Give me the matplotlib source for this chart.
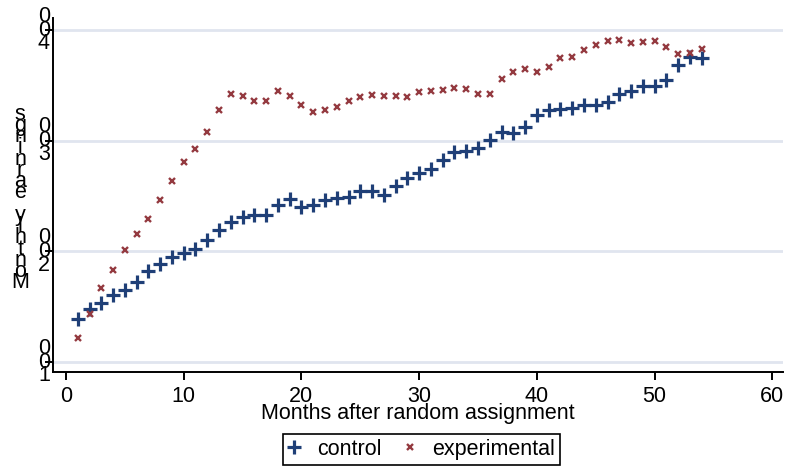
import matplotlib
matplotlib.use("Agg")
import matplotlib.pyplot as plt

plt.rcParams['font.family'] = ['Liberation Sans', 'DejaVu Sans']

months = list(range(1, 55))
control = [138.6, 148.2, 153.7, 160.6, 165.4, 172.7, 182.6, 188.7, 194.7, 198.3,
           202.5, 210.7, 219.7, 226.7, 231.5, 233.3, 232.7, 241.7, 247.8, 240.0,
           242.0, 246.9, 248.7, 249.6, 254.5, 254.8, 251.4, 259.0, 266.5, 271.3,
           274.4, 282.5, 289.7, 291.2, 293.9, 300.9, 307.5, 306.9, 312.9, 323.2,
           327.8, 328.7, 329.2, 332.6, 332.8, 335.0, 342.2, 345.2, 349.1, 349.1,
           354.6, 368.5, 375.7, 374.8]
experimental = [121.4, 143.2, 166.7, 183.3, 201.1, 215.6, 229.4, 246.6, 263.8, 280.7,
                293.0, 307.5, 328.0, 342.2, 340.1, 335.9, 336.2, 345.2, 340.7, 332.0,
                326.2, 328.0, 331.0, 335.6, 339.2, 341.0, 340.1, 340.1, 339.5, 343.7,
                344.9, 345.8, 347.6, 346.7, 342.5, 342.5, 355.7, 361.8, 365.2, 361.8,
                366.4, 374.5, 376.0, 382.4, 386.3, 390.5, 391.4, 388.7, 389.0, 390.5,
                384.8, 378.4, 379.3, 382.9]
xticks = [0, 10, 20, 30, 40, 50, 60]
yticks = [100, 200, 300, 400]
ytick_labels = ['100', '200', '300', '400']
xlabel = 'Months after random assignment'
ylabel = 'Monthly earnings'
series_names = ['control', 'experimental']

FS = 15.5
fig = plt.figure(figsize=(7.89, 4.66), dpi=100)
ax = fig.add_axes([53/789, (466-372)/466, (783-53)/789, (372-18)/466])

ax.plot(months, control, linestyle='none', marker='+', markersize=10,
        markeredgewidth=2.3, color='#1f3f77', label=series_names[0], zorder=3)
ax.plot(months, experimental, linestyle='none', marker='x', markersize=4.5,
        markeredgewidth=1.7, color='#943a40', label=series_names[1], zorder=3)

ax.set_xlim(-1.1, 60.9)
ax.set_ylim(91, 411)

for s in ['top', 'right']:
    ax.spines[s].set_visible(False)
for s in ['left', 'bottom']:
    ax.spines[s].set_linewidth(1.4)
    ax.spines[s].set_color('black')

ax.set_yticks(yticks)
ax.grid(axis='y', color='#e0e5ef', linewidth=2.0, zorder=0)
ax.set_axisbelow(True)

ax.set_xticks(xticks)
ax.set_xticklabels([str(v) for v in xticks], fontsize=FS)
ax.tick_params(axis='x', length=5.8, width=1.4, pad=4.3)
# stacked (vertical) characters, bottom-to-top
stacked = ['\n'.join(reversed(list(t))) for t in ytick_labels]
ax.set_yticklabels(stacked, fontsize=FS)
ax.tick_params(axis='y', length=5.8, width=1.4, pad=0.7)
for lab in ax.get_yticklabels():
    lab.set_horizontalalignment('center')
    lab.set_verticalalignment('center')
    lab.set_linespacing(0.55)

ax.set_xlabel(xlabel, fontsize=FS)
ax.xaxis.set_label_coords(0.5, -0.088)

ax.set_ylabel('\n'.join(reversed(list(ylabel))), fontsize=FS, rotation=0,
              linespacing=0.39, ha='center', va='center')
ax.yaxis.set_label_coords(-0.045, 0.49)

leg = fig.legend(loc='lower center', bbox_to_anchor=(421.5/789, 0.002), ncol=2,
                 fontsize=FS, frameon=True, fancybox=False, edgecolor='black',
                 framealpha=1, handlelength=0.6, handletextpad=0.75,
                 columnspacing=1.0, borderpad=0.24, borderaxespad=0)
leg.get_frame().set_linewidth(1.2)

fig.savefig('out.png', dpi=100)
